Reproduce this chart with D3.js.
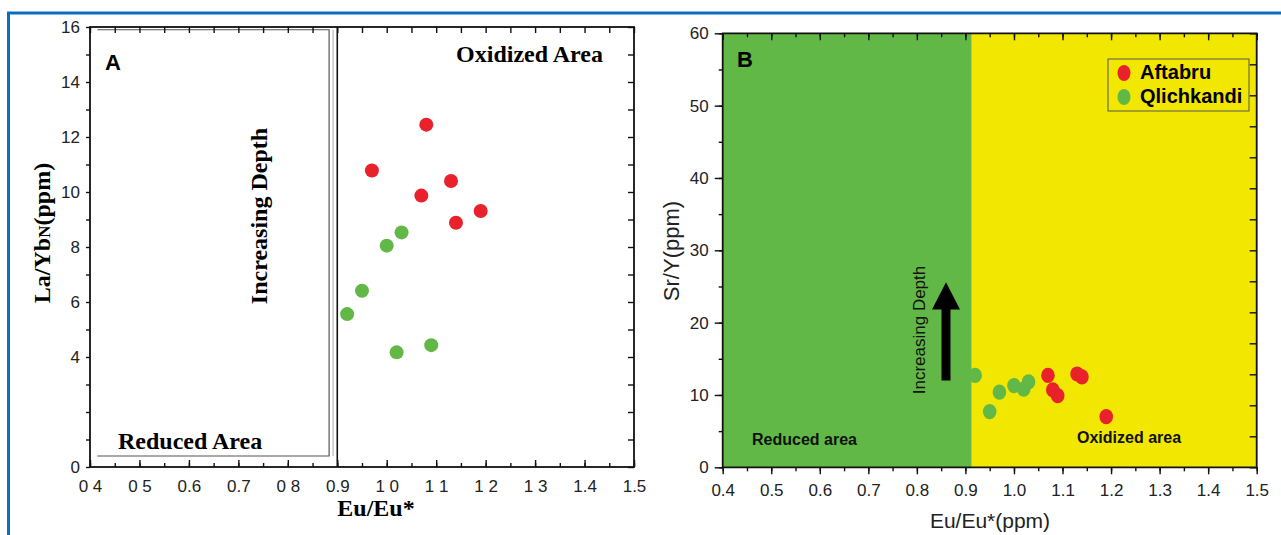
<!DOCTYPE html>
<html>
<head>
<meta charset="utf-8">
<script src="https://cdn.jsdelivr.net/npm/d3@7"></script>
<style>
  body { margin: 0; background: #fff; }
  svg { display: block; }
  .serif { font-family: "Liberation Serif", "Times New Roman", serif; font-weight: bold; }
  .sans { font-family: "Liberation Sans", Arial, sans-serif; }
</style>
</head>
<body>
<svg></svg>
<script>
let width = 1281, height = 535;

// panel A: La/YbN vs Eu/Eu*
let aftabruA = [
    { eu: 1.08, la: 12.45 }, { eu: 0.97, la: 10.78 }, { eu: 1.13, la: 10.4 },
    { eu: 1.07, la: 9.87 }, { eu: 1.19, la: 9.31 }, { eu: 1.14, la: 8.88 }
];
let qlichkandiA = [
    { eu: 1.03, la: 8.53 }, { eu: 1.00, la: 8.05 }, { eu: 0.95, la: 6.41 },
    { eu: 0.92, la: 5.56 }, { eu: 1.02, la: 4.17 }, { eu: 1.09, la: 4.43 }
];
let xTicksA = [0.4, 0.5, 0.6, 0.7, 0.8, 0.9, 1.0, 1.1, 1.2, 1.3, 1.4, 1.5];
let xLabelsA = ["0 4", "0 5", "0.6", "0.7", "0 8", "0.9", "1 0", "1 1", "1 2", "1 3", "1.4", "1.5"];
let yLabelsA = [0, 4, 6, 8, 10, 12, 14, 16];
let boundaryA = 0.9;

// panel B: Sr/Y vs Eu/Eu*
let aftabruB = [
    { eu: 1.07, sr: 12.7 }, { eu: 1.08, sr: 10.7 }, { eu: 1.09, sr: 9.9 },
    { eu: 1.13, sr: 12.9 }, { eu: 1.14, sr: 12.5 }, { eu: 1.19, sr: 7.0 }
];
let qlichkandiB = [
    { eu: 0.92, sr: 12.7 }, { eu: 0.95, sr: 7.7 }, { eu: 0.97, sr: 10.4 },
    { eu: 1.00, sr: 11.3 }, { eu: 1.02, sr: 10.8 }, { eu: 1.03, sr: 11.8 }
];
let xTicksB = [0.4, 0.5, 0.6, 0.7, 0.8, 0.9, 1.0, 1.1, 1.2, 1.3, 1.4, 1.5];
let yTicksB = [0, 10, 20, 30, 40, 50, 60];
let boundaryB = 0.913;
let legendNames = ["Aftabru", "Qlichkandi"];

let red = "#e8212b", green = "#62b847", yellow = "#f2e700", frameBlue = "#0b6fc1";

let svg = d3.select("svg")
    .attr("width", width)
    .attr("height", height);

// blue frame (top and left only)
svg.append("line").attr("x1", 7).attr("x2", width).attr("y1", 13).attr("y2", 13)
    .attr("stroke", frameBlue).attr("stroke-width", 3);
svg.append("line").attr("x1", 8.5).attr("x2", 8.5).attr("y1", 12).attr("y2", height)
    .attr("stroke", frameBlue).attr("stroke-width", 3);

function cleanAxis(g, color) {
    g.select(".domain").remove();
    g.selectAll("line").attr("stroke", color || "#111").attr("stroke-width", 1.4);
    g.selectAll("text")
        .attr("class", "sans")
        .attr("fill", "#222")
        .style("font-size", "17px");
}

// ---------------- Panel A ----------------
let xA = d3.scaleLinear().domain([0.4, 1.5]).range([90, 634]);
let yA = d3.scaleLinear().domain([0, 16]).range([467, 27]);
let minorXA = d3.range(0.4, 1.5001, 0.05).map(d => +d.toFixed(2));
let minorYA = d3.range(0, 17, 1);

let gA = svg.append("g");

// reduced area box
gA.append("path")
    .attr("d", "M" + xA(0.415) + "," + yA(15.9) + "H" + xA(0.8835) + "V" + yA(0.4) + "H" + xA(0.415))
    .attr("fill", "none").attr("stroke", "#555").attr("stroke-width", 1.2);
gA.append("line")
    .attr("x1", xA(0.8915)).attr("x2", xA(0.8915)).attr("y1", yA(15.9)).attr("y2", yA(0.4))
    .attr("stroke", "#aaa").attr("stroke-width", 1);
// boundary line
gA.append("line")
    .attr("x1", xA(boundaryA)).attr("x2", xA(boundaryA)).attr("y1", yA(16)).attr("y2", yA(0))
    .attr("stroke", "#111").attr("stroke-width", 1.6);

// ticks
gA.append("g").attr("transform", "translate(0," + yA(0) + ")")
    .call(d3.axisBottom(xA).tickValues(minorXA).tickSize(-4).tickFormat(""))
    .call(g => cleanAxis(g));
gA.append("g").attr("transform", "translate(0," + yA(0) + ")")
    .call(d3.axisBottom(xA).tickValues(xTicksA).tickSize(-7).tickFormat(""))
    .call(g => cleanAxis(g));
gA.append("g").attr("transform", "translate(0," + yA(0) + ")")
    .call(d3.axisBottom(xA).tickValues(xTicksA).tickSize(0).tickPadding(13)
        .tickFormat((d, i) => xLabelsA[i]))
    .call(g => cleanAxis(g));
gA.append("g").attr("transform", "translate(0," + yA(16) + ")")
    .call(d3.axisTop(xA).tickValues(minorXA).tickSize(-6).tickFormat(""))
    .call(g => cleanAxis(g));
gA.append("g").attr("transform", "translate(" + xA(0.4) + ",0)")
    .call(d3.axisLeft(yA).tickValues(minorYA).tickSize(4).tickFormat(""))
    .call(g => cleanAxis(g));
gA.append("g").attr("transform", "translate(" + xA(0.4) + ",0)")
    .call(d3.axisLeft(yA).tickValues(yLabelsA).tickSize(0).tickPadding(10))
    .call(g => cleanAxis(g));
gA.append("g").attr("transform", "translate(" + xA(1.5) + ",0)")
    .call(d3.axisRight(yA).tickValues(minorYA).tickSize(-6).tickFormat(""))
    .call(g => cleanAxis(g));

gA.append("rect")
    .attr("x", xA(0.4)).attr("y", yA(16))
    .attr("width", xA(1.5) - xA(0.4)).attr("height", yA(0) - yA(16))
    .attr("fill", "none").attr("stroke", "#111").attr("stroke-width", 1.8);

// points
gA.append("g").selectAll("circle")
    .data(aftabruA)
    .enter()
    .append("circle")
    .attr("cx", d => xA(d.eu)).attr("cy", d => yA(d.la)).attr("r", 7)
    .attr("fill", red);
gA.append("g").selectAll("circle")
    .data(qlichkandiA)
    .enter()
    .append("circle")
    .attr("cx", d => xA(d.eu)).attr("cy", d => yA(d.la)).attr("r", 7)
    .attr("fill", green);

// texts
gA.append("text").attr("class", "sans").attr("x", 105).attr("y", 70)
    .style("font-size", "22px").style("font-weight", "bold").text("A");
gA.append("text").attr("class", "serif").attr("x", 603).attr("y", 62)
    .attr("text-anchor", "end").style("font-size", "24px").text("Oxidized Area");
gA.append("text").attr("class", "serif").attr("x", 118).attr("y", 449)
    .style("font-size", "24px").text("Reduced Area");
gA.append("text").attr("class", "serif")
    .attr("transform", "translate(267,216) rotate(-90)")
    .attr("text-anchor", "middle").style("font-size", "24px").text("Increasing Depth");
gA.append("text").attr("class", "serif").attr("x", 376).attr("y", 516)
    .attr("text-anchor", "middle").style("font-size", "24px").text("Eu/Eu*");
let yLab = gA.append("text").attr("class", "serif")
    .attr("transform", "translate(50,233) rotate(-90)")
    .attr("text-anchor", "middle").style("font-size", "24px");
yLab.append("tspan").text("La/Yb");
yLab.append("tspan").style("font-size", "17px").text("N");
yLab.append("tspan").text("(ppm)");

// ---------------- Panel B ----------------
let xB = d3.scaleLinear().domain([0.4, 1.5]).range([722.7, 1256.7]);
let yB = d3.scaleLinear().domain([0, 60]).range([467.3, 33.3]);
// right-hand ticks in the figure do not line up with the left axis
let yBr = d3.scaleLinear().domain([0, 14]).range([467.3, 33.3]);
let minorXB = d3.range(0.4, 1.5001, 0.05).map(d => +d.toFixed(2));
let minorYB = d3.range(0, 61, 5);

let gB = svg.append("g");

gB.append("rect")
    .attr("x", xB(0.4)).attr("y", yB(60))
    .attr("width", xB(boundaryB) - xB(0.4)).attr("height", yB(0) - yB(60))
    .attr("fill", green);
gB.append("rect")
    .attr("x", xB(boundaryB)).attr("y", yB(60))
    .attr("width", xB(1.5) - xB(boundaryB)).attr("height", yB(0) - yB(60))
    .attr("fill", yellow);

gB.append("g").attr("transform", "translate(0," + yB(0) + ")")
    .call(d3.axisBottom(xB).tickValues(minorXB).tickSize(4).tickFormat(""))
    .call(g => cleanAxis(g));
gB.append("g").attr("transform", "translate(0," + yB(0) + ")")
    .call(d3.axisBottom(xB).tickValues(xTicksB).tickSize(7).tickFormat(""))
    .call(g => cleanAxis(g));
gB.append("g").attr("transform", "translate(0," + yB(0) + ")")
    .call(d3.axisBottom(xB).tickValues(xTicksB).tickSize(0).tickPadding(16.5)
        .tickFormat(d3.format(".1f")))
    .call(g => cleanAxis(g));
gB.append("g").attr("transform", "translate(0," + yB(60) + ")")
    .call(d3.axisTop(xB).tickValues(minorXB).tickSize(-4).tickFormat(""))
    .call(g => cleanAxis(g));
gB.append("g").attr("transform", "translate(0," + yB(60) + ")")
    .call(d3.axisTop(xB).tickValues(xTicksB).tickSize(-7).tickFormat(""))
    .call(g => cleanAxis(g));
gB.append("g").attr("transform", "translate(" + xB(0.4) + ",0)")
    .call(d3.axisLeft(yB).tickValues(minorYB).tickSize(4).tickFormat(""))
    .call(g => cleanAxis(g));
gB.append("g").attr("transform", "translate(" + xB(0.4) + ",0)")
    .call(d3.axisLeft(yB).tickValues(yTicksB).tickSize(8).tickPadding(6))
    .call(g => cleanAxis(g));
gB.append("g").attr("transform", "translate(" + xB(1.5) + ",0)")
    .call(d3.axisRight(yBr).ticks(14).tickSize(-7).tickFormat(""))
    .call(g => cleanAxis(g));

gB.append("path")
    .attr("d", "M" + xB(0.4) + "," + yB(60) + "H" + xB(1.5) + "V" + yB(0) + "H" + xB(0.4) + "Z")
    .attr("fill", "none").attr("stroke", "#111").attr("stroke-width", 1.8);

// arrow
let ax = xB(0.86);
gB.append("path")
    .attr("d", "M" + (ax - 4.5) + "," + yB(12) + "V" + yB(21.8) + "H" + (ax - 14) +
        "L" + ax + "," + yB(25.6) + "L" + (ax + 14) + "," + yB(21.8) + "H" + (ax + 4.5) + "V" + yB(12) + "Z")
    .attr("fill", "#000");

gB.append("g").selectAll("ellipse")
    .data(aftabruB)
    .enter()
    .append("ellipse")
    .attr("cx", d => xB(d.eu)).attr("cy", d => yB(d.sr)).attr("rx", 6.8).attr("ry", 7.6)
    .attr("fill", red);
gB.append("g").selectAll("ellipse")
    .data(qlichkandiB)
    .enter()
    .append("ellipse")
    .attr("cx", d => xB(d.eu)).attr("cy", d => yB(d.sr)).attr("rx", 6.8).attr("ry", 7.6)
    .attr("fill", green);

// legend
let legend = gB.append("g").attr("transform", "translate(1108,59)");
legend.append("rect").attr("width", 141).attr("height", 52)
    .attr("fill", "none").attr("stroke", "#555").attr("stroke-width", 1);
legend.selectAll("g.item")
    .data(legendNames)
    .enter()
    .append("g")
    .attr("class", "item")
    .attr("transform", (d, i) => "translate(0," + (14 + i * 24) + ")")
    .each(function (d, i) {
        let g = d3.select(this);
        g.append("ellipse").attr("cx", 16).attr("cy", 0).attr("rx", 6.5).attr("ry", 8)
            .attr("fill", i == 0 ? red : green);
        g.append("text").attr("class", "sans").attr("x", 32).attr("y", 6)
            .style("font-size", "20px").style("font-weight", "bold").text(d);
    });

gB.append("text").attr("class", "sans").attr("x", 737).attr("y", 67)
    .style("font-size", "22px").style("font-weight", "bold").text("B");
gB.append("text").attr("class", "sans").attr("x", 752).attr("y", 445)
    .style("font-size", "16px").style("font-weight", "bold").attr("fill", "#111").text("Reduced area");
gB.append("text").attr("class", "sans").attr("x", 1077).attr("y", 443)
    .style("font-size", "16px").style("font-weight", "bold").attr("fill", "#111").text("Oxidized area");
gB.append("text").attr("class", "sans")
    .attr("transform", "translate(925,330) rotate(-90)")
    .attr("text-anchor", "middle").style("font-size", "17px").attr("fill", "#111")
    .text("Increasing Depth");
gB.append("text").attr("class", "sans").attr("x", 990).attr("y", 528)
    .attr("text-anchor", "middle").style("font-size", "21px").attr("fill", "#222").text("Eu/Eu*(ppm)");
gB.append("text").attr("class", "sans")
    .attr("transform", "translate(679,251) rotate(-90)")
    .attr("text-anchor", "middle").style("font-size", "22px").attr("fill", "#222").text("Sr/Y(ppm)");
</script>
</body>
</html>
